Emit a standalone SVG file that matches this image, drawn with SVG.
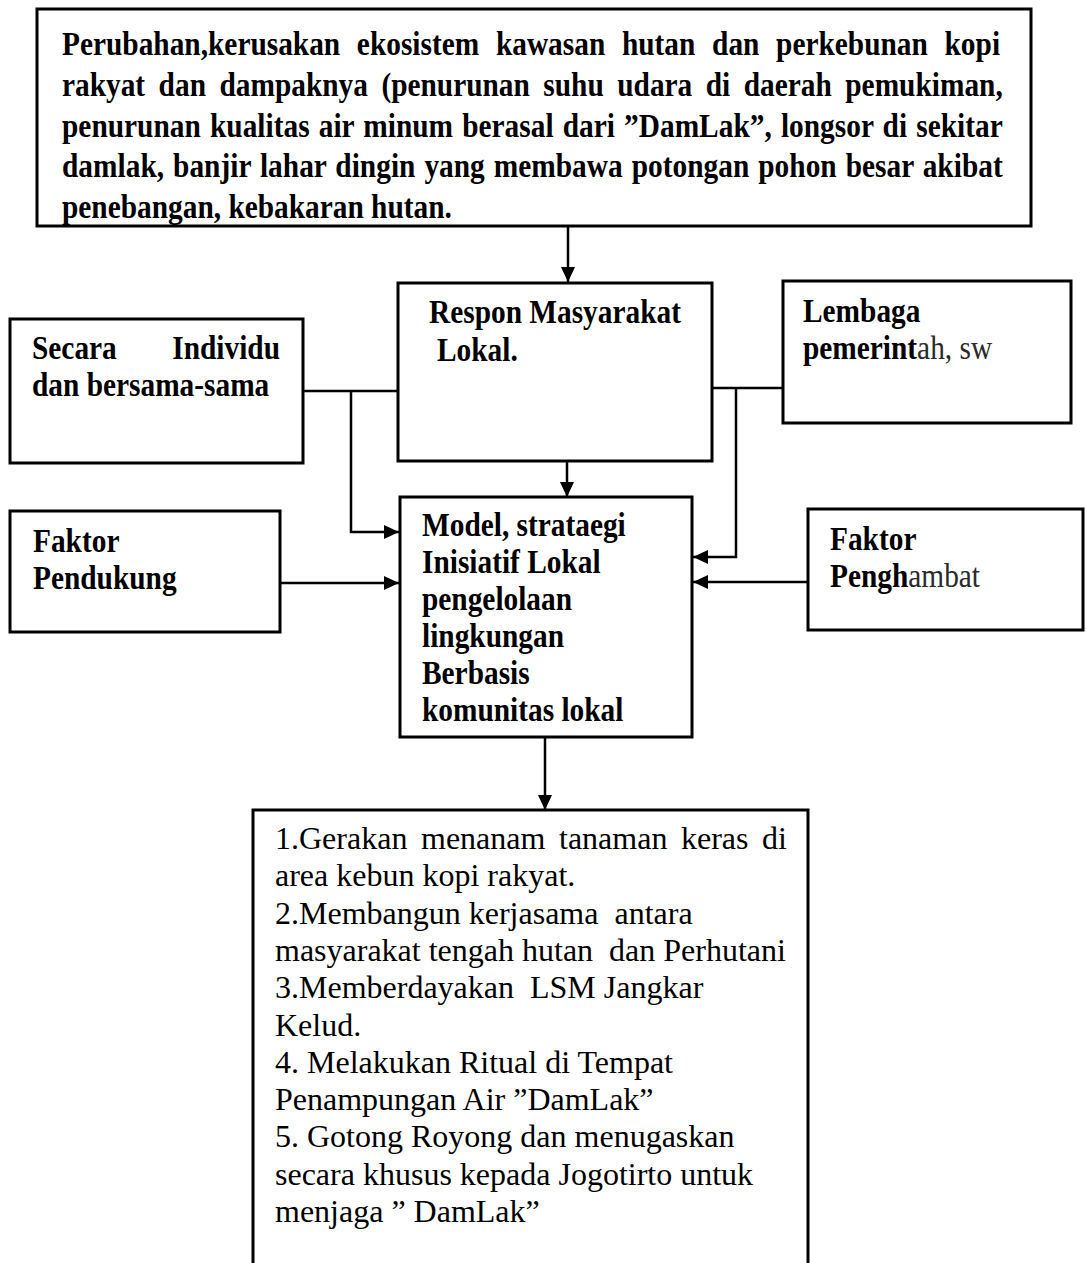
<svg xmlns="http://www.w3.org/2000/svg" width="1086" height="1263" viewBox="0 0 1086 1263">
<style>
.box{fill:#fff;stroke:#000;stroke-width:3}
.b{font-family:"Liberation Serif","Times New Roman",serif;font-weight:bold;font-size:33px;fill:#000}
.r{font-family:"Liberation Serif","Times New Roman",serif;font-size:32px;fill:#000}
.lt{font-weight:normal;fill:#2a2a2a}
.con{fill:none;stroke:#000;stroke-width:2.5}
</style>
<defs>
<marker id="ah" markerUnits="userSpaceOnUse" markerWidth="16" markerHeight="14" refX="15" refY="7" orient="auto">
<path d="M0,0 L15,7 L0,14 Z" fill="#000"/>
</marker>
</defs>
<rect width="1086" height="1263" fill="#fff"/>

<g id="connectors">
<line class="con" x1="568" y1="226" x2="568" y2="282" marker-end="url(#ah)"/>
<line class="con" x1="303" y1="391" x2="399" y2="391"/>
<polyline class="con" points="351,391 351,532 399,532" marker-end="url(#ah)"/>
<line class="con" x1="712" y1="388" x2="783" y2="388"/>
<polyline class="con" points="736,388 736,557 693,557" marker-end="url(#ah)"/>
<line class="con" x1="567" y1="461" x2="567" y2="497" marker-end="url(#ah)"/>
<line class="con" x1="280" y1="583" x2="399" y2="583" marker-end="url(#ah)"/>
<line class="con" x1="808" y1="582" x2="693" y2="582" marker-end="url(#ah)"/>
<line class="con" x1="545" y1="737" x2="545" y2="810" marker-end="url(#ah)"/>
</g>

<g id="node-top">
<rect class="box" x="37" y="9" width="994" height="217" stroke-width="3.5"/>
<text class="b" transform="matrix(0.89,0,0,1,62,0)" y="55" word-spacing="10.5" textLength="1054" lengthAdjust="spacing">Perubahan,kerusakan ekosistem kawasan hutan dan perkebunan kopi</text>
<text class="b" transform="matrix(0.89,0,0,1,62,0)" y="96" word-spacing="6.9" textLength="1057" lengthAdjust="spacing">rakyat dan dampaknya (penurunan suhu udara di daerah pemukiman,</text>
<text class="b" transform="matrix(0.89,0,0,1,62,0)" y="137" word-spacing="2" textLength="1057" lengthAdjust="spacing">penurunan kualitas air minum berasal dari ”DamLak”, longsor di sekitar</text>
<text class="b" transform="matrix(0.89,0,0,1,62,0)" y="177" word-spacing="1.8" textLength="1057" lengthAdjust="spacing">damlak, banjir lahar dingin yang membawa potongan pohon besar akibat</text>
<text class="b" transform="matrix(0.89,0,0,1,62,0)" y="218">penebangan, kebakaran hutan.</text>
</g>

<g id="node-respon">
<rect class="box" x="398" y="283" width="314" height="178"/>
<text class="b" transform="matrix(0.89,0,0,1,429,0)" y="323">Respon Masyarakat</text>
<text class="b" transform="matrix(0.89,0,0,1,437,0)" y="361">Lokal.</text>
</g>

<g id="node-secara">
<rect class="box" x="10" y="319" width="293" height="144"/>
<text class="b" transform="matrix(0.89,0,0,1,32,0)" y="359">Secara</text>
<text class="b" transform="matrix(0.89,0,0,1,280,0)" y="359" text-anchor="end">Individu</text>
<text class="b" transform="matrix(0.89,0,0,1,32,0)" y="396">dan bersama-sama</text>
</g>

<g id="node-lembaga">
<rect class="box" x="783" y="281" width="288" height="142"/>
<text class="b" transform="matrix(0.89,0,0,1,803,0)" y="322">Lembaga</text>
<text class="b" transform="matrix(0.89,0,0,1,803,0)" y="359">pemerint<tspan class="lt">ah, sw</tspan></text>
</g>

<g id="node-model">
<rect class="box" x="400" y="497" width="292" height="240"/>
<text class="b" transform="matrix(0.89,0,0,1,422,0)" y="536">Model, strataegi</text>
<text class="b" transform="matrix(0.89,0,0,1,422,0)" y="573">Inisiatif Lokal</text>
<text class="b" transform="matrix(0.89,0,0,1,422,0)" y="610">pengelolaan</text>
<text class="b" transform="matrix(0.89,0,0,1,422,0)" y="647">lingkungan</text>
<text class="b" transform="matrix(0.89,0,0,1,422,0)" y="684">Berbasis</text>
<text class="b" transform="matrix(0.89,0,0,1,422,0)" y="721">komunitas lokal</text>
</g>

<g id="node-pendukung">
<rect class="box" x="10" y="511" width="270" height="121"/>
<text class="b" transform="matrix(0.89,0,0,1,33,0)" y="552">Faktor</text>
<text class="b" transform="matrix(0.89,0,0,1,33,0)" y="589">Pendukung</text>
</g>

<g id="node-penghambat">
<rect class="box" x="808" y="509" width="275" height="121"/>
<text class="b" transform="matrix(0.89,0,0,1,830,0)" y="550">Faktor</text>
<text class="b" transform="matrix(0.89,0,0,1,830,0)" y="587">Pengh<tspan class="lt">ambat</tspan></text>
</g>

<g id="node-hasil">
<path class="box" d="M253,1270 V810 H808 V1270"/>
<text class="r" x="275" y="849" word-spacing="5.6" textLength="512" lengthAdjust="spacing">1.Gerakan menanam tanaman keras di</text>
<text class="r" x="275" y="886">area kebun kopi rakyat.</text>
<text class="r" x="275" y="924" xml:space="preserve">2.Membangun kerjasama  antara</text>
<text class="r" x="275" y="961" xml:space="preserve">masyarakat tengah hutan  dan Perhutani</text>
<text class="r" x="275" y="998" xml:space="preserve">3.Memberdayakan  LSM Jangkar</text>
<text class="r" x="275" y="1036">Kelud.</text>
<text class="r" x="275" y="1073">4. Melakukan Ritual di Tempat</text>
<text class="r" x="275" y="1110">Penampungan Air ”DamLak”</text>
<text class="r" x="275" y="1147">5. Gotong Royong dan menugaskan</text>
<text class="r" x="275" y="1185">secara khusus kepada Jogotirto untuk</text>
<text class="r" x="275" y="1222">menjaga ” DamLak”</text>
</g>
</svg>
